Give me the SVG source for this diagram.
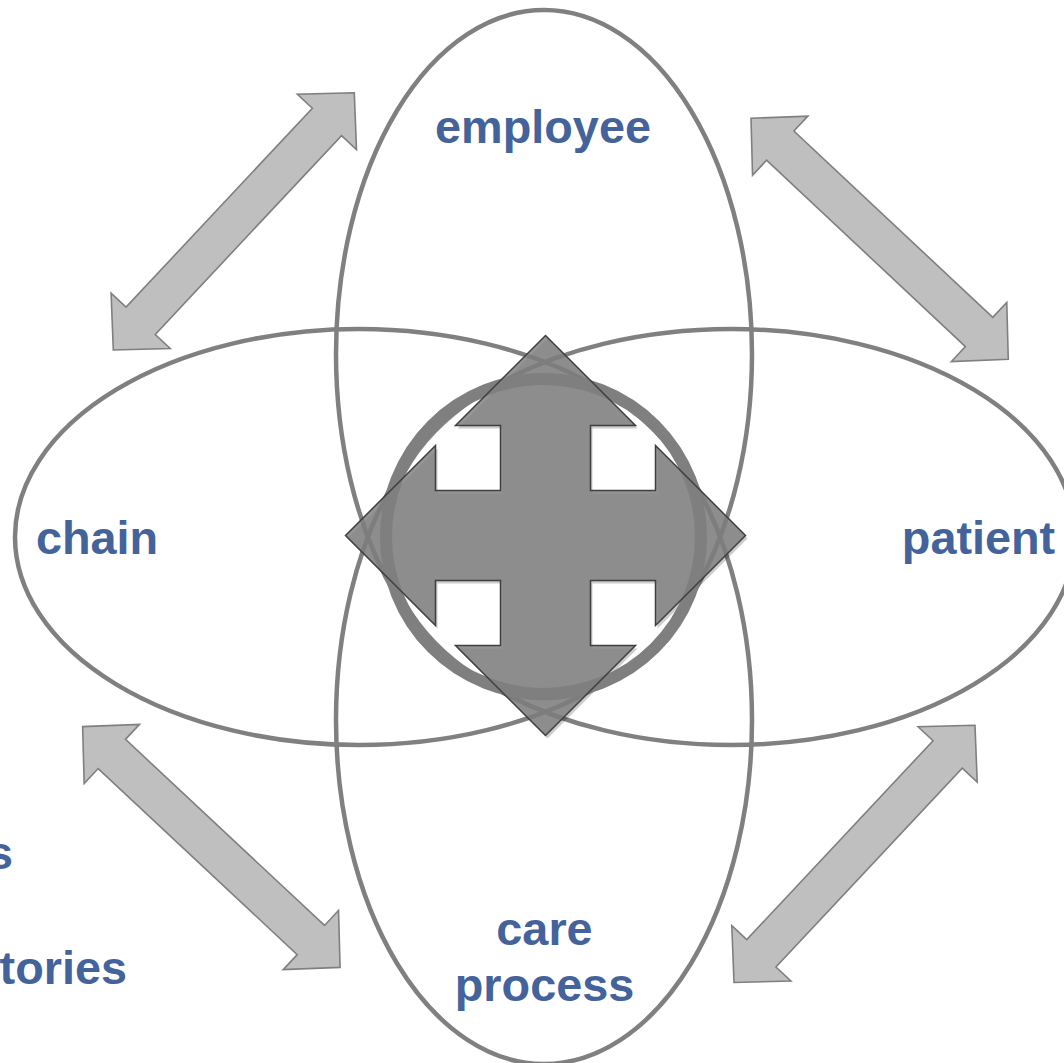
<svg xmlns="http://www.w3.org/2000/svg" width="1064" height="1063" viewBox="0 0 1064 1063">
<defs>
<style>
.ell{fill:none;stroke:#808080;stroke-width:4.5}
.dbl{fill:#bfbfbf;stroke:#7f7f7f;stroke-width:1.6;stroke-linejoin:miter}
.lbl{font-family:"Liberation Sans",Arial,sans-serif;font-weight:bold;font-size:46.8px;fill:#44639a}
</style>
<path id="dblarrow" d="M176.25,0 L136.25,-40.5 L136.25,-20 L-136.25,-20 L-136.25,-40.5 L-176.25,0 L-136.25,40.5 L-136.25,20 L136.25,20 L136.25,40.5 Z"/>
<path id="cross" d="M0,-200 L90,-110 L45,-110 L45,-45 L110,-45 L110,-90 L200,0 L110,90 L110,45 L45,45 L45,110 L90,110 L0,200 L-90,110 L-45,110 L-45,45 L-110,45 L-110,90 L-200,0 L-110,-90 L-110,-45 L-45,-45 L-45,-110 L-90,-110 Z"/>
</defs>
<rect width="1064" height="1063" fill="#ffffff"/>
<g id="ellipses">
<ellipse id="employee-ellipse" class="ell" cx="544" cy="354" rx="208" ry="344"/>
<ellipse id="care-ellipse" class="ell" cx="544" cy="720" rx="208" ry="344"/>
<ellipse id="chain-ellipse" class="ell" cx="359" cy="537" rx="344" ry="208"/>
<ellipse id="patient-ellipse" class="ell" cx="731" cy="537" rx="344" ry="208"/>
</g>
<g id="connectors">
<use href="#dblarrow" class="dbl" transform="translate(233.8,221.35) rotate(-46.87)"/>
<use href="#dblarrow" class="dbl" transform="translate(879.65,238.8) rotate(43.13)"/>
<use href="#dblarrow" class="dbl" transform="translate(211.35,847) rotate(43.08)"/>
<use href="#dblarrow" class="dbl" transform="translate(854.5,853.85) rotate(-46.87)"/>
</g>
<g id="center">
<use href="#cross" transform="translate(547.5,538.5)" fill="#000000" fill-opacity="0.2"/>
<use href="#cross" transform="translate(545.5,535.5)" fill="#818181" fill-opacity="0.85"/>
<circle cx="543.5" cy="536.5" r="157.5" fill="none" stroke="#7f7f7f" stroke-width="12"/>
<use href="#cross" transform="translate(545.5,535.5)" fill="none" stroke="#3f3f3f" stroke-width="1.5"/>
</g>
<g id="employee"><text class="lbl" x="543" y="143" text-anchor="middle">employee</text></g>
<g id="chain"><text class="lbl" x="97" y="554" text-anchor="middle">chain</text></g>
<g id="patient"><text class="lbl" x="978.5" y="554" text-anchor="middle">patient</text></g>
<g id="care-process"><text class="lbl" x="544.5" y="945" text-anchor="middle">care</text><text class="lbl" x="544.5" y="1001" text-anchor="middle">process</text></g>
<g id="partial-1"><text class="lbl" x="13" y="869" text-anchor="end">s</text></g>
<g id="partial-2"><text class="lbl" x="127" y="984" text-anchor="end">tories</text></g>
</svg>
